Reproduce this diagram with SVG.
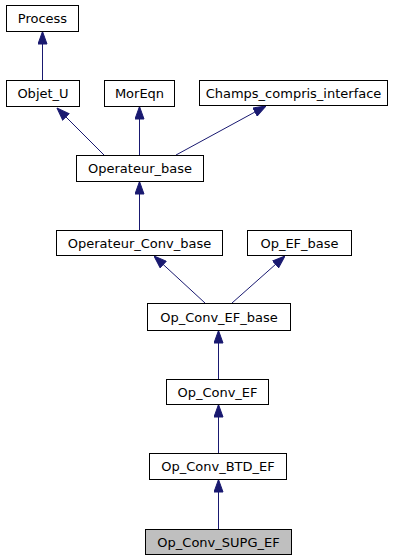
<svg xmlns="http://www.w3.org/2000/svg" width="403" height="560" viewBox="0 0 403 560">
<style>
.n rect{fill:#fff;stroke:#000;stroke-width:1}
.n text{font-family:"DejaVu Sans",sans-serif;font-size:13px;text-anchor:middle;fill:#000}
.e path{fill:none;stroke:#191970;stroke-width:1}
</style>
<defs>
<marker id="a" viewBox="0 0 13 10" refX="13" refY="5" markerWidth="13" markerHeight="10" markerUnits="userSpaceOnUse" orient="auto">
<path d="M0.5,0.5 L13,5 L0.5,9.5 Z" fill="#191970" stroke="#191970"/>
</marker>
</defs>
<rect width="403" height="560" fill="#fff"/>
<g class="e">
<path d="M42.5,80 L42.5,31.5" marker-end="url(#a)"/>
<path d="M104,155 L57,108" marker-end="url(#a)"/>
<path d="M139.5,155 L139.5,106.5" marker-end="url(#a)"/>
<path d="M176,155 L266,106" marker-end="url(#a)"/>
<path d="M139.5,230 L139.5,181.5" marker-end="url(#a)"/>
<path d="M205,303 L154,256" marker-end="url(#a)"/>
<path d="M232,303 L285,256" marker-end="url(#a)"/>
<path d="M218.5,379 L218.5,330.5" marker-end="url(#a)"/>
<path d="M218.5,453 L218.5,404.5" marker-end="url(#a)"/>
<path d="M218.5,529 L218.5,479.5" marker-end="url(#a)"/>
</g>
<g id="Process" class="n"><rect x="6.5" y="5.5" width="72" height="26"/><text x="42.5" y="23">Process</text></g>
<g id="Objet_U" class="n"><rect x="6.5" y="80.5" width="73" height="26"/><text x="43" y="98">Objet_U</text></g>
<g id="MorEqn" class="n"><rect x="104.5" y="80.5" width="70" height="26"/><text x="139.5" y="98">MorEqn</text></g>
<g id="Champs_compris_interface" class="n"><rect x="199.5" y="80.5" width="188" height="25"/><text x="293.5" y="97.5">Champs_compris_interface</text></g>
<g id="Operateur_base" class="n"><rect x="76.5" y="155.5" width="127" height="26"/><text x="140" y="173">Operateur_base</text></g>
<g id="Operateur_Conv_base" class="n"><rect x="56.5" y="230.5" width="166" height="25"/><text x="139.5" y="247.5">Operateur_Conv_base</text></g>
<g id="Op_EF_base" class="n"><rect x="247.5" y="230.5" width="104" height="25"/><text x="299.5" y="247.5">Op_EF_base</text></g>
<g id="Op_Conv_EF_base" class="n"><rect x="147.5" y="303.5" width="143" height="27"/><text x="219" y="321.5">Op_Conv_EF_base</text></g>
<g id="Op_Conv_EF" class="n"><rect x="166.5" y="379.5" width="102" height="25"/><text x="217.5" y="396.5">Op_Conv_EF</text></g>
<g id="Op_Conv_BTD_EF" class="n"><rect x="149.5" y="453.5" width="137" height="26"/><text x="218" y="471">Op_Conv_BTD_EF</text></g>
<g id="Op_Conv_SUPG_EF" class="n"><rect x="145.5" y="529.5" width="146" height="25" style="fill:#bfbfbf"/><text x="218.5" y="546.5">Op_Conv_SUPG_EF</text></g>
</svg>
